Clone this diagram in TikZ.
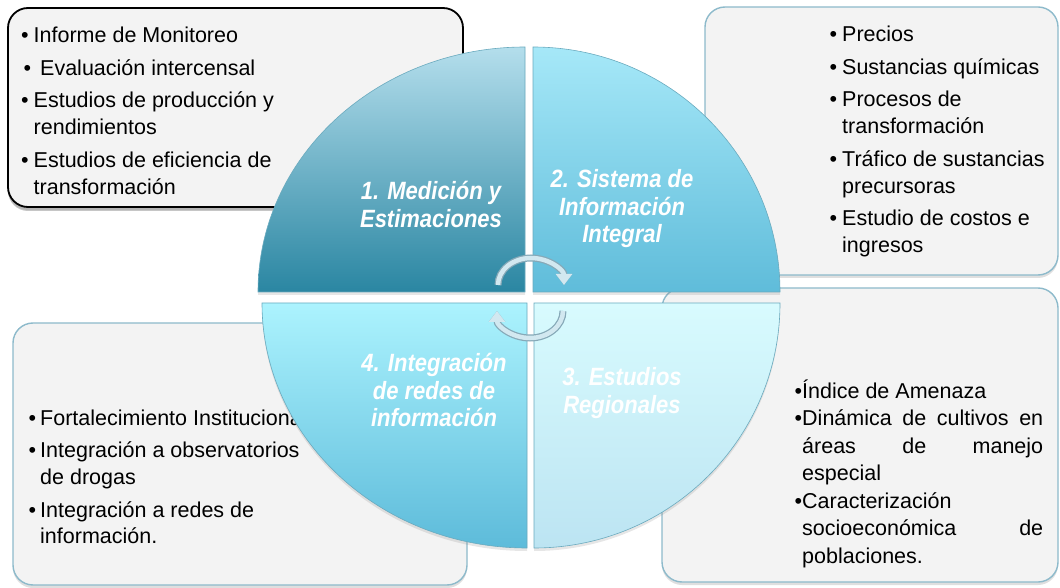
\documentclass[tikz,border=0pt]{standalone}
\usepackage{fontspec}
\setmainfont{Liberation Sans}
\newfontfamily\quarterfont[FakeStretch=0.88]{Liberation Sans}
\usepackage{tikz}
\usetikzlibrary{arrows.meta}
\usetikzlibrary{shadows}
\definecolor{boxfill}{HTML}{F3F3F3}
\definecolor{boxline}{HTML}{8DBACB}
\definecolor{qonetop}{HTML}{B4DEEC}
\definecolor{qonebot}{HTML}{2A86A2}
\definecolor{qtwotop}{HTML}{A6E8F8}
\definecolor{qtwobot}{HTML}{5FBCDA}
\definecolor{qthreetop}{HTML}{D8FBFE}
\definecolor{qthreebot}{HTML}{BCE4F2}
\definecolor{qfourtop}{HTML}{ACF3FE}
\definecolor{qfourbot}{HTML}{5DBBDA}
\definecolor{arrowfill}{HTML}{D2E8F0}
\definecolor{arrowedge}{HTML}{86A9B8}
\tikzset{
  panel/.style={fill=boxfill, draw=boxline, line width=1.4pt, rounded corners=20pt,
    drop shadow={shadow xshift=0pt, shadow yshift=-3pt, opacity=0.25}},
  darkpanel/.style={panel, draw=black, line width=1.8pt,
    drop shadow={shadow xshift=0pt, shadow yshift=-4pt, opacity=0.45}},
  slice/.style={draw=qonebot!70, line width=0.6pt,
    drop shadow={shadow xshift=0pt, shadow yshift=-3pt, opacity=0.2}},
  bodytext/.style={anchor=base west, inner sep=0pt, font=\fontsize{21.5}{27}\selectfont},
  qtext/.style={anchor=base, inner sep=0pt, text=white,
    font=\quarterfont\bfseries\itshape\fontsize{25}{27.5}\selectfont},
  cyclearrow/.style={draw=arrowfill, line width=4.5pt, -{Triangle[length=11pt,width=16pt]},
    preaction={draw=arrowedge, line width=7pt}}
}
\newcommand{\infobox}[5]{\draw[#1] (#2,#3) rectangle (#4,#5);}
\newcommand{\quarter}[6]{\draw[#1] (#2,#3) -- ++(#4:#5 and #6) arc[start angle=#4, delta angle=-90, x radius=#5, y radius=#6] -- cycle;}
\newcommand{\txtline}[4]{\node[bodytext] (#1) at (#2,#3) {#4};}
\newcommand{\bulline}[5]{\node[bodytext] (#1) at (#2,#3) {\llap{\textbullet\hspace{#4}}#5};}
\newcommand{\qlabel}[4]{\node[qtext] (#1) at (#2,#3) {#4};}

\begin{document}
\begin{tikzpicture}[x=1pt,y=1pt]
        \useasboundingbox (0,0) rectangle (1060,587);

        % boxes
        \infobox{darkpanel}{8}{380}{463}{579}
        \infobox{panel}{705}{312}{1058}{580}
        \infobox{panel}{662}{5}{1058}{299}
        \infobox{panel}{13}{2}{467}{264}

        % box 1
        \bulline{ba}{33.5}{544}{5pt}{Informe de Monitoreo}
        \bulline{bb}{40}{511.5}{9pt}{Evaluación intercensal}
        \bulline{bc}{33.5}{479}{5pt}{Estudios de producción y}
        \txtline{bd}{33.5}{452}{rendimientos}
        \bulline{be}{33.5}{419.5}{5pt}{Estudios de eficiencia de}
        \txtline{bf}{33.5}{392.5}{transformación}

        % box 2
        \bulline{ca}{842}{545}{5pt}{Precios}
        \bulline{cb}{842}{512.5}{5pt}{Sustancias químicas}
        \bulline{cc}{842}{480}{5pt}{Procesos de}
        \txtline{cd}{842}{453}{transformación}
        \bulline{ce}{842}{420.5}{5pt}{Tráfico de sustancias}
        \txtline{cf}{842}{393.5}{precursoras}
        \bulline{cg}{842}{361}{5pt}{Estudio de costos e}
        \txtline{ch}{842}{334}{ingresos}

        % box 3
        \bulline{da}{802}{189}{0pt}{Índice de Amenaza}
        \bulline{db}{802}{161.5}{0pt}{\makebox[241pt][s]{Dinámica de cultivos en}}
        \txtline{dc}{802}{134}{\makebox[241pt][s]{áreas de manejo}}
        \txtline{dd}{802}{106.5}{especial}
        \bulline{de}{802}{79}{0pt}{Caracterización}
        \txtline{df}{802}{51.5}{\makebox[241pt][s]{socioeconómica de}}
        \txtline{dg}{802}{24}{poblaciones.}

        % box 4
        \bulline{ea}{40}{162}{4pt}{Fortalecimiento Institucional}
        \bulline{eb}{40}{129.5}{4pt}{Integración a observatorios}
        \txtline{ec}{40}{103}{de drogas}
        \bulline{ed}{40}{70}{4pt}{Integración a redes de}
        \txtline{ee}{40}{43.5}{información.}

        % circle
        \quarter{slice, top color=qonetop, bottom color=qonebot}{525}{295}{180}{267}{245}
        \quarter{slice, top color=qtwotop, bottom color=qtwobot}{533}{295}{90}{247}{245}
        \quarter{slice, top color=qthreetop, bottom color=qthreebot}{534}{284}{0}{246}{245}
        \quarter{slice, top color=qfourtop, bottom color=qfourbot}{527}{284}{-90}{265}{245}

        % labels of the circle
        \qlabel{la}{431}{387}{1. Medición y}
        \qlabel{lb}{431}{359.5}{Estimaciones}
        \qlabel{lc}{622}{399}{2. Sistema de}
        \qlabel{ld}{622}{371.5}{Información}
        \qlabel{le}{622}{344}{Integral}
        \qlabel{lf}{622}{201.5}{3. Estudios}
        \qlabel{lg}{622}{174}{Regionales}
        \qlabel{lh}{434}{215.5}{4. Integración}
        \qlabel{li}{434}{188}{de redes de}
        \qlabel{lj}{434}{160.5}{información}

        % cycle arrows
        \coordinate (upL) at (498,302);
        \coordinate (loR) at (563,276);
        \draw[cyclearrow] (upL) arc[start angle=180, end angle=0, x radius=33, y radius=27];
        \draw[cyclearrow] (loR) arc[start angle=0, end angle=-180, x radius=33, y radius=27];
\end{tikzpicture}
\end{document}
